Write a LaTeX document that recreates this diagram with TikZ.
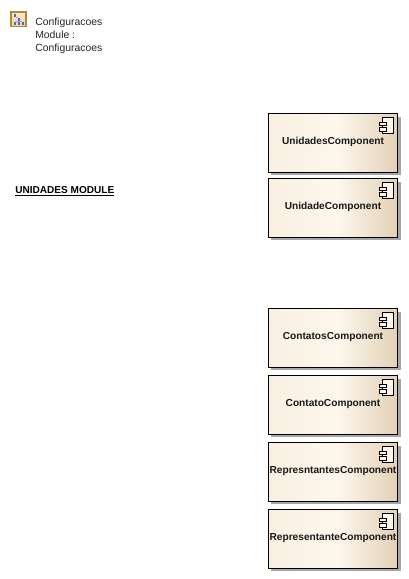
\documentclass[tikz,border=0pt]{standalone}
\usepackage{fontspec}
\setmainfont{Liberation Sans}
\usetikzlibrary{calc}
\definecolor{boxleft}{HTML}{F9F0E2}
\definecolor{boxmid}{HTML}{FCF6EC}
\definecolor{boxright}{HTML}{E3D1B6}
\definecolor{iconblue}{HTML}{2F72E8}
\definecolor{iconedge}{HTML}{B08A30}
\definecolor{iconfill}{HTML}{F6CF98}
\pgfdeclarehorizontalshading{compshade}{100bp}{color(0bp)=(boxleft); color(25bp)=(boxleft); color(52bp)=(boxmid); color(75bp)=(boxright); color(100bp)=(boxright)}
\tikzset{
  compbox/.style={draw=black,line width=.8pt,minimum width=97pt,minimum height=44.2pt,inner sep=0pt,shading=compshade},
  compshadow/.style={fill=black!35,minimum width=97pt,minimum height=44.2pt,inner sep=0pt},
  compicon/.style={draw=black,line width=.75pt,fill=boxmid},
  treenode/.style={fill=iconblue,minimum size=2pt,inner sep=0pt},
  plaintext/.style={inner sep=0pt,font=\fontsize{7.8pt}{9.75pt}\selectfont,text=black!85},
  complabel/.style={inner sep=0pt,font=\fontsize{7.6pt}{9pt}\selectfont\bfseries,text=black!90}
}
\newcommand{\compnode}[3]{%
  \node[compshadow] at (336,-#2-33) {};
  \node[compbox] (#1) at (333,-#2-30) {};
  \node[complabel] (#1label) at (333,-#2-29) {#3};
  \draw[compicon] ($(#1.north east)+(-16,-4.5)$) rectangle ($(#1.north east)+(-5,-20)$);
  \draw[compicon] ($(#1.north east)+(-18.5,-9)$) rectangle ($(#1.north east)+(-11.5,-12.5)$);
  \draw[compicon] ($(#1.north east)+(-18.5,-14.5)$) rectangle ($(#1.north east)+(-11.5,-18)$);
}
\begin{document}
\begin{tikzpicture}[x=.75pt,y=.75pt]
  \useasboundingbox[fill=white] (0,-579) rectangle (408,0);
  % package icon
  \draw[draw=iconedge,line width=.9pt,top color=iconfill!50,bottom color=iconfill] (11,-12) rectangle (26,-26.5);
  \node[treenode] (iconroot) at (15,-15.5) {};
  \node[treenode] (iconmid) at (19,-19.5) {};
  \node[treenode] (iconleft) at (15,-23.5) {};
  \node[treenode] (iconcentre) at (19,-23.5) {};
  \node[treenode] (iconright) at (23,-23.5) {};
  \draw[iconblue,line width=.4pt] (iconroot) -- (iconmid) (iconmid) -- (iconleft) (iconmid) -- (iconcentre) (iconmid) -- (iconright);
  \node[plaintext,anchor=north west,align=left] (pkgname) at (35,-18) {Configuracoes\\Module :\\Configuracoes};
  \node[inner sep=0pt,font=\fontsize{7.55pt}{9pt}\selectfont\bfseries,anchor=west] (unidadesmodule) at (15,-191.5) {\underline{UNIDADES MODULE}};
  % components
  \compnode{unidades}{113}{UnidadesComponent}
  \compnode{unidade}{178}{UnidadeComponent}
  \compnode{contatos}{308}{ContatosComponent}
  \compnode{contato}{375}{ContatoComponent}
  \compnode{represntantes}{442}{RepresntantesComponent}
  \compnode{representante}{509}{RepresentanteComponent}
\end{tikzpicture}
\end{document}
